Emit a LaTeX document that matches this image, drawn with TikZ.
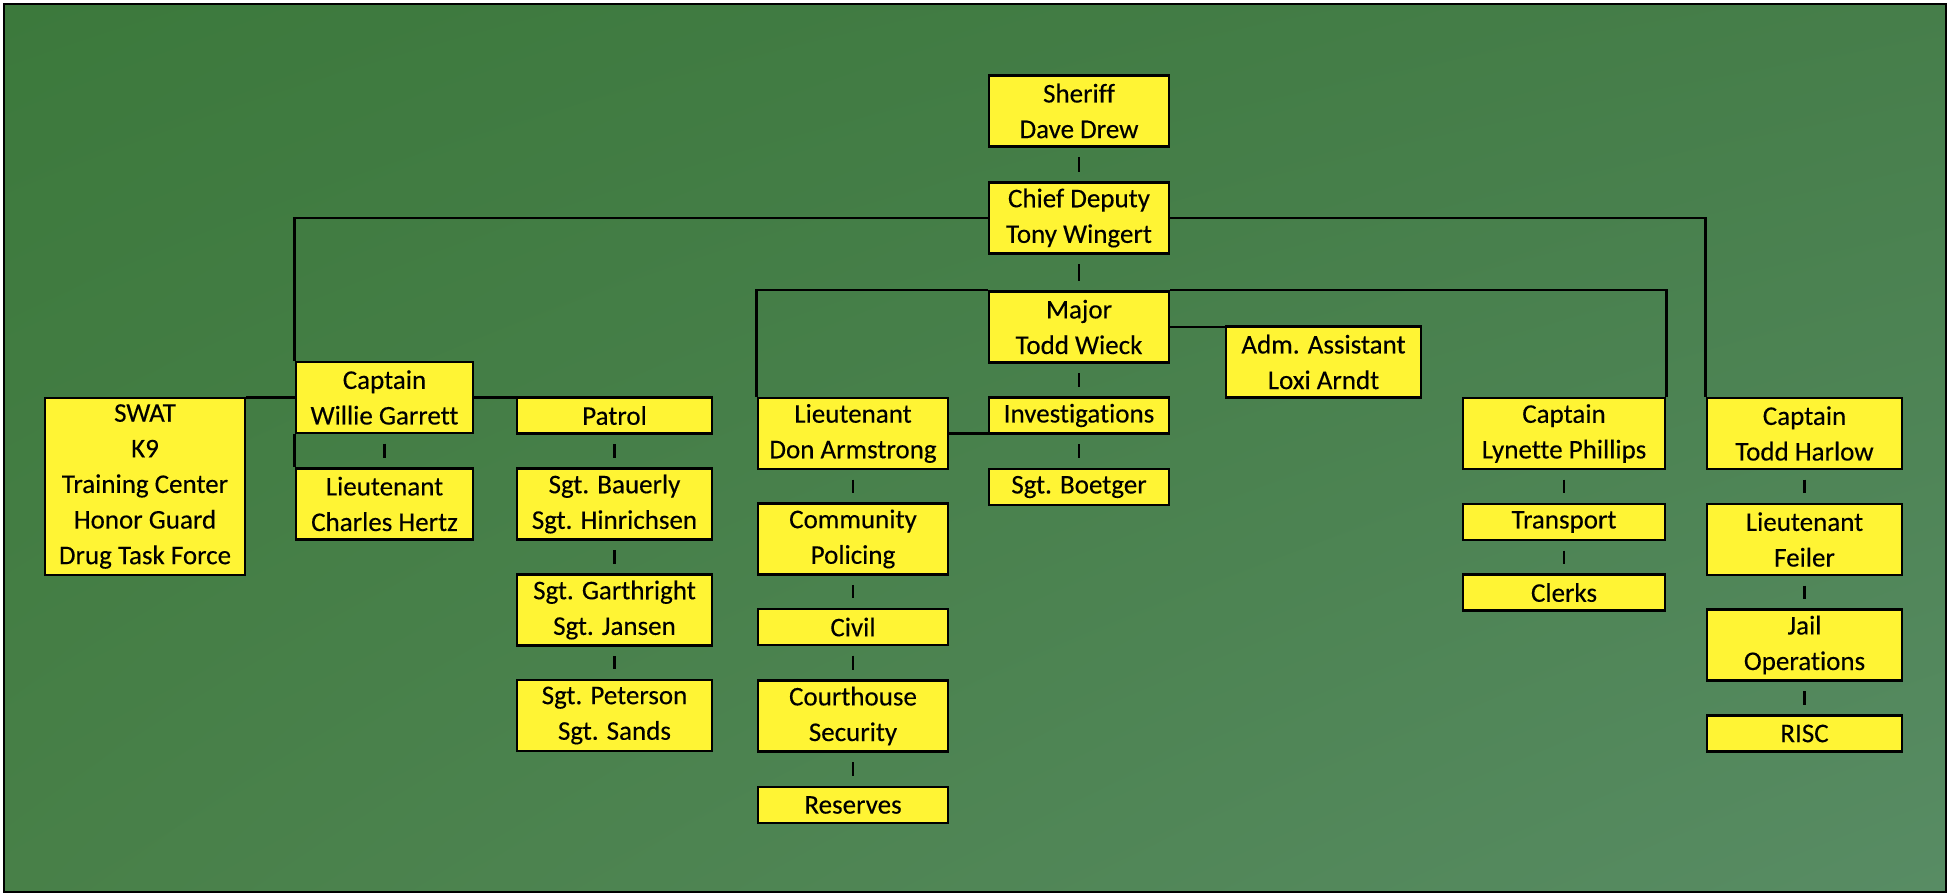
\documentclass[tikz,border=0pt]{standalone}
\usepackage{fontspec}
\usetikzlibrary{shadings}
\setmainfont{Carlito}[Ligatures=NoCommon, FakeBold=0.2]
\definecolor{boxyellow}{RGB}{255,244,52}
\definecolor{bgUL}{RGB}{60,121,60}
\definecolor{bgUR}{RGB}{70,126,74}
\definecolor{bgLL}{RGB}{72,128,72}
\definecolor{bgLR}{RGB}{88,140,100}
\tikzset{
  box/.style={draw=black, fill=boxyellow, line width=1.4pt, inner sep=0pt,
    align=center, font=\fontsize{13.5pt}{17.8pt}\selectfont},
  two/.style={box, minimum height=35.5pt},
  one/.style={box, minimum height=18pt},
  link/.style={line width=1.2pt, draw=black},
  tick/.style={link, shorten <=4.6pt, shorten >=4.6pt},
}
\begin{document}
\begin{tikzpicture}[x=0.5pt, y=-0.5pt]
\useasboundingbox (0,0) rectangle (1952,894);
\fill[white] (0,0) rectangle (1952,894);
\shade[upper left=bgUL, upper right=bgUR, lower left=bgLL, lower right=bgLR]
  (4,4) rectangle (1946,892);
\draw[line width=1.2pt] (4,4) rectangle (1946,892);

% command chain
\node[two, minimum width=90pt] (sheriff) at (1079,111) {Sheriff\\Dave Drew};
\node[two, minimum width=90pt] (chief) at (1079,218) {Chief Deputy\\Tony Wingert};
\node[two, minimum width=90pt] (major) at (1079,327) {Major\\Todd Wieck};
\node[two, minimum width=97.5pt] (adm) at (1323.5,362) {Adm. Assistant\\Loxi Arndt};

% Captain Garrett's division
\node[two, minimum width=88.5pt] (willie) at (384.5,397.5) {Captain\\Willie Garrett};
\node[box, minimum width=100pt, minimum height=88.5pt] (swat) at (145,486.5)
  {SWAT\\K9\\Training Center\\Honor Guard\\Drug Task Force};
\node[two, minimum width=88.5pt] (hertz) at (384.5,504) {Lieutenant\\Charles Hertz};
\node[one, minimum width=97.5pt] (patrol) at (614.5,415.5) {Patrol};
\node[two, minimum width=97.5pt] (bauerly) at (614.5,504) {Sgt. Bauerly\\Sgt. Hinrichsen};
\node[two, minimum width=97.5pt] (garthright) at (614.5,610) {Sgt. Garthright\\Sgt. Jansen};
\node[two, minimum width=97.5pt] (peterson) at (614.5,715.5) {Sgt. Peterson\\Sgt. Sands};

% Major's division
\node[two, minimum width=95pt] (don) at (853,433.5) {Lieutenant\\Don Armstrong};
\node[two, minimum width=95pt] (community) at (853,539) {Community\\Policing};
\node[one, minimum width=95pt] (civil) at (853,627) {Civil};
\node[two, minimum width=95pt] (courthouse) at (853,716) {Courthouse\\Security};
\node[one, minimum width=95pt] (reserves) at (853,805) {Reserves};
\node[one, minimum width=90pt] (invest) at (1079,415.5) {Investigations};
\node[one, minimum width=90pt] (boetger) at (1079,487) {Sgt. Boetger};
\node[two, minimum width=101pt] (lynette) at (1564,433.5) {Captain\\Lynette Phillips};
\node[one, minimum width=101pt] (transport) at (1564,522) {Transport};
\node[one, minimum width=101pt] (clerks) at (1564,592.5) {Clerks};

% Captain Harlow's division
\node[two, minimum width=97.5pt] (harlow) at (1804.5,433.5) {Captain\\Todd Harlow};
\node[two, minimum width=97.5pt] (feiler) at (1804.5,539.5) {Lieutenant\\Feiler};
\node[two, minimum width=97.5pt] (jail) at (1804.5,645) {Jail\\Operations};
\node[one, minimum width=97.5pt] (risc) at (1804.5,733.5) {RISC};

% branch lines
\draw[link] (chief.west) -| (willie.north west);
\draw[link] (willie.south west) -- (hertz.north west);
\draw[link] (chief.east) -| (harlow.north west);
\draw[link] (major.north west) -| (don.north west);
\draw[link] (major.north east) -| (lynette.north east);
\draw[link] (major.east) -- (major.east -| adm.west);
\draw[link] (willie.west) -- (willie.west -| swat.east);
\draw[link] (willie.east) -- (willie.east -| patrol.west);
\draw[link] (don.east) -- (don.east -| invest.west);

% short ticks between stacked boxes
\draw[tick] (sheriff.south) -- (chief.north);
\draw[tick] (chief.south) -- (major.north);
\draw[tick] (major.south) -- (invest.north);
\draw[tick] (invest.south) -- (boetger.north);
\draw[tick] (willie.south) -- (hertz.north);
\draw[tick] (patrol.south) -- (bauerly.north);
\draw[tick] (bauerly.south) -- (garthright.north);
\draw[tick] (garthright.south) -- (peterson.north);
\draw[tick] (don.south) -- (community.north);
\draw[tick] (community.south) -- (civil.north);
\draw[tick] (civil.south) -- (courthouse.north);
\draw[tick] (courthouse.south) -- (reserves.north);
\draw[tick] (lynette.south) -- (transport.north);
\draw[tick] (transport.south) -- (clerks.north);
\draw[tick] (harlow.south) -- (feiler.north);
\draw[tick] (feiler.south) -- (jail.north);
\draw[tick] (jail.south) -- (risc.north);
\end{tikzpicture}
\end{document}
